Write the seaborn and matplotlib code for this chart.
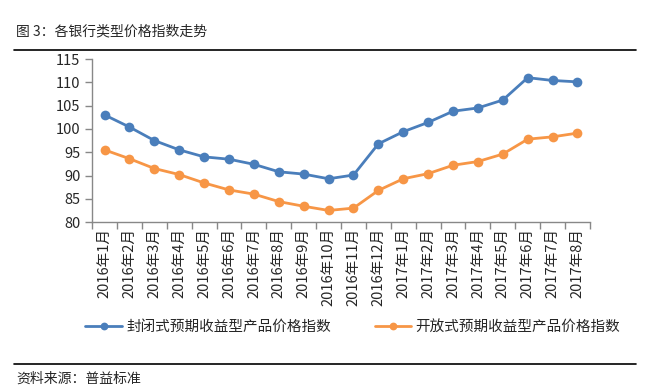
import matplotlib
matplotlib.use('Agg')
import matplotlib.pyplot as plt
import numpy as np
import pandas as pd
import seaborn as sns

sns.set_style("white")
plt.rcParams['font.family'] = ['Noto Sans CJK SC', 'DejaVu Sans']

months = ['2016年1月', '2016年2月', '2016年3月', '2016年4月', '2016年5月', '2016年6月',
          '2016年7月', '2016年8月', '2016年9月', '2016年10月', '2016年11月', '2016年12月',
          '2017年1月', '2017年2月', '2017年3月', '2017年4月', '2017年5月', '2017年6月',
          '2017年7月', '2017年8月']
closed_idx = [103.0, 100.4, 97.5, 95.5, 94.0, 93.5, 92.4, 90.8, 90.3, 89.3, 90.1, 96.8,
              99.4, 101.4, 103.8, 104.5, 106.2, 111.0, 110.4, 110.1]
open_idx = [95.5, 93.6, 91.5, 90.2, 88.4, 86.9, 86.0, 84.4, 83.4, 82.5, 83.0, 86.8,
            89.3, 90.4, 92.2, 93.0, 94.6, 97.8, 98.3, 99.1]
series_names = ['封闭式预期收益型产品价格指数', '开放式预期收益型产品价格指数']
colors = ['#4A7EBB', '#F79646']

df = pd.DataFrame({'pos': list(range(len(months))) * 2,
                   'value': closed_idx + open_idx,
                   'series': [series_names[0]] * len(months) + [series_names[1]] * len(months)})

fig = plt.figure(figsize=(6.49, 3.91), dpi=100)
ax = fig.add_axes([0.142, 0.432, 0.767, 0.417])
sns.lineplot(data=df, x='pos', y='value', hue='series', palette=colors,
             marker='o', markersize=7, markeredgewidth=0, linewidth=2, ax=ax)

ax.set_xlim(-0.5, len(months) - 0.5)
ax.set_ylim(80, 115)
ax.set_yticks(range(80, 116, 5))
ax.set_xticks(range(len(months)))
ax.set_xticklabels(months, rotation=90, fontsize=10.5)
ax.set_xticks(np.arange(-0.5, len(months), 1), minor=True)
ax.tick_params(axis='x', which='major', bottom=False, length=0, pad=4)
ax.tick_params(axis='x', which='minor', bottom=True, length=5, width=1,
               color='#888888', direction='out')
ax.tick_params(axis='y', left=True, length=5, width=1, color='#888888',
               direction='out', labelsize=10.5)
ax.set_xlabel('')
ax.set_ylabel('')
for s in ['top', 'right']:
    ax.spines[s].set_visible(False)
for s in ['left', 'bottom']:
    ax.spines[s].set_color('#888888')
    ax.spines[s].set_linewidth(1)

ax.legend(loc='upper left', bbox_to_anchor=(-0.04, -0.52), ncol=2, frameon=False,
          fontsize=10.5, handlelength=2.5, columnspacing=3, handletextpad=0.3,
          markerscale=0.8)

fig.text(0.025, 0.91, '图 3：各银行类型价格指数走势', fontsize=10)
fig.add_artist(plt.Line2D([0.022, 0.98], [0.873, 0.873], color='black', linewidth=1.2))
fig.add_artist(plt.Line2D([0.022, 0.98], [0.07, 0.07], color='black', linewidth=1.2))
fig.text(0.025, 0.02, '资料来源：普益标准', fontsize=10)

fig.savefig('out.png', dpi=100)
